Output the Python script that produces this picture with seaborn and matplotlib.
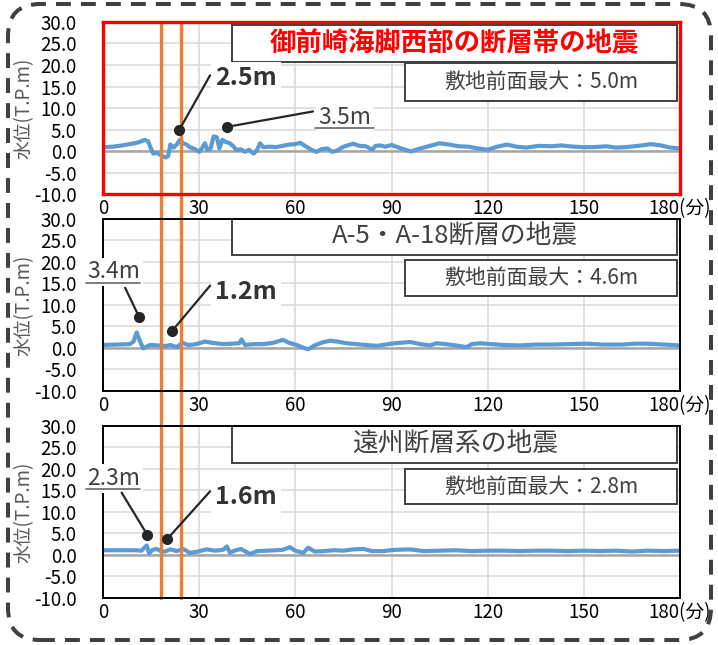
import matplotlib
matplotlib.use("Agg")
import matplotlib.pyplot as plt
import seaborn as sns
import pandas as pd
from matplotlib.patches import Rectangle, FancyBboxPatch

# --- data ---
titles = ['御前崎海脚西部の断層帯の地震', 'A-5・A-18断層の地震', '遠州断層系の地震']
maxima = ['敷地前面最大：5.0m', '敷地前面最大：4.6m', '敷地前面最大：2.8m']
x_ticks = [0, 30, 60, 90, 120, 150, 180]
x_labels = ['0', '30', '60', '90', '120', '150', '180(分)']
y_ticks = [-10, -5, 0, 5, 10, 15, 20, 25, 30]
markers_min = [18.0, 24.4]   # 縦線(分)

t1 = [0, 3, 6, 9, 11, 13, 14, 15, 15.7, 17, 18, 19.5, 20.3, 21, 22, 23, 24, 25, 26, 27,
      28.5, 30, 31, 31.8, 32.5, 33.5, 34.5, 35.5, 36.3, 37.2, 38, 39.5, 40.5, 41.7, 43,
      44.3, 45.5, 47, 48, 49, 50, 52, 54, 56, 58, 60, 61.5, 63, 65, 66.6, 68, 70, 71.5,
      73, 75, 78, 80, 82, 84, 85, 86.5, 88, 90, 93, 96, 99, 102, 105, 108, 111, 114,
      117, 120, 123, 126, 129, 132, 136, 140, 143, 147, 150, 153, 157, 160, 163, 167,
      171, 174, 177, 180]
h1 = [0.9, 1.0, 1.3, 1.7, 2.0, 2.6, 2.3, 0.5, -0.6, -0.4, -1.0, -1.5, -1.2, 1.5, 0.8,
      1.5, 2.6, 1.8, 1.5, 0.9, 0.5, -0.2, 0.8, 1.8, 0.3, 0.5, 3.4, 3.2, 0.6, 2.6, 2.2,
      1.8, 1.2, 0.2, 0.4, -0.2, 0.3, -0.6, 0.2, 1.8, 0.9, 1.0, 0.9, 1.2, 1.5, 1.6, 1.9,
      1.2, 0.3, -0.2, 0.4, 0.6, -0.2, 0.1, 1.0, 1.7, 1.2, 1.1, 0.3, 1.2, 1.3, 1.0, 1.4,
      0.6, -0.1, 0.6, 1.2, 1.8, 1.5, 1.1, 1.0, 0.6, 0.3, 1.0, 1.5, 1.0, 0.8, 1.2, 1.1,
      1.3, 1.0, 0.9, 0.9, 1.1, 0.8, 0.9, 1.2, 1.6, 1.3, 0.8, 0.6]

t2 = [0, 4, 8.4, 9.5, 10.5, 11.3, 12.5, 13.5, 14.7, 17, 19.9, 21, 23, 24, 25, 26, 27, 29,
      31.8, 34, 37.5, 40, 42.5, 43.2, 44.3, 47, 50, 53, 56.2, 58, 60.4, 62, 64, 66, 68.5,
      70.8, 73, 76, 79, 82, 85.4, 88, 91, 95.8, 99, 102, 104, 107, 110, 113.4, 115, 117.6,
      121, 125, 130, 135, 140, 145, 150.9, 156, 162, 166, 170, 175, 180]
h2 = [0.7, 0.8, 0.9, 1.5, 3.6, 2.0, -0.1, 0.3, 0.7, 0.6, 0.5, 0.7, 0.2, 0.8, 1.2, 0.8,
      0.7, 0.9, 1.5, 1.2, 0.9, 1.0, 1.1, 2.0, 0.7, 0.9, 0.9, 1.2, 1.9, 1.2, 0.7, 0.2,
      -0.3, 0.6, 1.3, 1.7, 1.5, 1.1, 0.9, 0.7, 0.5, 0.8, 1.1, 1.4, 0.9, 0.6, 1.1, 0.9,
      0.6, 0.2, 0.9, 1.1, 0.9, 0.7, 0.6, 0.8, 0.8, 0.9, 1.0, 0.8, 0.8, 1.0, 1.0, 0.8, 0.6]

t3 = [0, 5, 10, 12, 13.6, 14.4, 15.5, 16.7, 18, 19.3, 21, 23, 25, 27.1, 29, 32.3, 35,
      37.5, 38.6, 39.6, 41, 43, 45.9, 48, 51, 54.2, 56, 58.3, 60, 62.5, 64, 66, 68.7,
      72, 75, 78, 81.2, 84, 87.4, 91, 95.8, 100, 105, 110, 115, 120, 125, 130, 135,
      140, 145, 150, 155, 160, 165, 170, 175, 180]
h3 = [1.1, 1.1, 1.1, 1.0, 2.2, 0.4, 1.2, 1.4, 0.9, 0.8, 1.3, 0.9, 1.4, 0.5, 0.7, 1.3,
      1.0, 1.2, 2.0, 0.5, 1.0, 1.4, 0.2, 0.9, 1.0, 1.1, 1.2, 1.8, 1.0, 0.5, 1.7, 0.8,
      0.9, 1.1, 1.0, 1.3, 1.4, 0.9, 0.9, 1.2, 1.3, 0.9, 1.0, 1.1, 0.9, 1.0, 1.0, 0.9,
      1.0, 1.0, 0.9, 1.0, 0.9, 1.0, 0.8, 1.0, 0.9, 1.0]

series = [(t1, h1), (t2, h2), (t3, h3)]

# 注記: (文字, 点, 線の端, 文字位置, 太字, 下線)
notes = [
    [('2.5m', (23.7, 4.8), (33.4, 17.6), (35.0, 16.9), True, None),
     ('3.5m', (38.6, 5.6), (65.5, 9.2), (75.5, 7.8), False, (66.2, 84.6, 5.3))],
    [('3.4m', (11.2, 7.3), (6.9, 14.0), (3.2, 17.7), False, (-5.3, 11.5, 15.0)),
     ('1.2m', (21.6, 4.0), (33.4, 14.5), (35.0, 13.1), True, None)],
    [('2.3m', (13.8, 4.7), (5.8, 14.5), (3.3, 17.8), False, (-5.3, 11.5, 15.3)),
     ('1.6m', (19.9, 3.6), (33.4, 14.8), (35.0, 13.4), True, None)],
]

sns.set_style("white")
plt.rcParams['font.family'] = ['Noto Sans CJK JP', 'DejaVu Sans']

fig = plt.figure(figsize=(7.18, 6.45), dpi=100)

# 外枠(点線・角丸)
frame = FancyBboxPatch((0.08, 0.05), 7.03, 6.36, boxstyle="round,pad=0,rounding_size=0.32",
                       transform=fig.dpi_scale_trans, facecolor='none', edgecolor='#404040',
                       lw=2.9, linestyle=(0, (3.7, 2.5)), capstyle='butt')
fig.patches.append(frame)

bottoms = [0.6992, 0.3938, 0.0729]
gaps = [0.145, 0.209, 0.0]
title_box = [(0.2236, 0.767, 0.983), (0.2236, 0.791, 1.0), (0.2236, 0.786, 1.0)]
max_box = [(0.523, 0.541, 0.760), (0.523, 0.552, 0.762), (0.523, 0.545, 0.752)]

for i in range(3):
    ax = fig.add_axes([0.1435, bottoms[i], 0.8036, 0.2667])
    df = pd.DataFrame({'t': series[i][0], 'h': series[i][1]})
    sns.lineplot(data=df, x='t', y='h', ax=ax, color='#5B9BD5', lw=3.0, zorder=3)
    ax.set_xlim(0, 180)
    ax.set_ylim(-10, 30)
    ax.set_xticks(x_ticks)
    ax.set_xticklabels(x_labels)
    ax.set_yticks(y_ticks)
    ax.set_yticklabels([f'{v:.1f}' for v in y_ticks])
    ax.grid(True, color='#D9D9D9', lw=1.1)
    ax.axhline(0, color='#A6A6A6', lw=1.8, zorder=2)
    ax.tick_params(length=0, labelsize=13.5, colors='black')
    ax.tick_params(axis='y', pad=19)
    ax.tick_params(axis='x', pad=3)
    ax.set_xlabel('')
    ax.set_ylabel('水位(T.P.m)', color='#595959', fontsize=13.5)
    ax.yaxis.set_label_coords(-0.118, 0.5)

    for s in ax.spines.values():
        if i == 0:
            s.set_color('#FF0000')
            s.set_linewidth(2.4)
        else:
            s.set_color('black')
            s.set_linewidth(1.4)
        s.set_zorder(7)

    for m in markers_min:
        ax.axvline(m, ymin=-gaps[i], ymax=1, color='#ED7D31', lw=2.4, zorder=4, clip_on=False)

    # タイトル枠
    x0, y0, y1 = title_box[i]
    ax.add_patch(Rectangle((x0, y0), 0.995 - x0, y1 - y0, transform=ax.transAxes,
                           facecolor='white', edgecolor='#404040', lw=1.4, zorder=6))
    ax.text((x0 + 0.995) / 2, (y0 + y1) / 2, titles[i], transform=ax.transAxes,
            ha='center', va='center', zorder=8,
            fontsize=19 if i == 0 else 18.5,
            color='#FF0000' if i == 0 else '#404040',
            fontweight='bold' if i == 0 else 'normal')
    x0, y0, y1 = max_box[i]
    ax.add_patch(Rectangle((x0, y0), 0.995 - x0, y1 - y0, transform=ax.transAxes,
                           facecolor='white', edgecolor='#404040', lw=1.4, zorder=6))
    ax.text((x0 + 0.995) / 2, (y0 + y1) / 2, maxima[i], transform=ax.transAxes,
            ha='center', va='center', fontsize=15, color='#404040', zorder=8)

    # 注記
    for text, dot, end, pos, bold, uline in notes[i]:
        ax.plot([dot[0], end[0]], [dot[1], end[1]], color='#262626', lw=1.6,
                zorder=9, clip_on=False)
        ax.plot(dot[0], dot[1], 'o', color='#262626', ms=7, zorder=9, clip_on=False)
        if bold:
            ax.text(pos[0], pos[1], text, ha='left', va='center', fontsize=18,
                    fontweight='bold', color='#333333', zorder=8, clip_on=False,
                    bbox=dict(facecolor='white', edgecolor='none', pad=3))
        else:
            ax.text(pos[0], pos[1], text, ha='center', va='center', fontsize=16.5,
                    color='#404040', zorder=8, clip_on=False,
                    bbox=dict(facecolor='white', edgecolor='none', pad=2))
        if uline:
            ax.plot([uline[0], uline[1]], [uline[2], uline[2]], color='#595959', lw=1.1,
                    zorder=9, clip_on=False)

fig.savefig('out.png', dpi=100)
